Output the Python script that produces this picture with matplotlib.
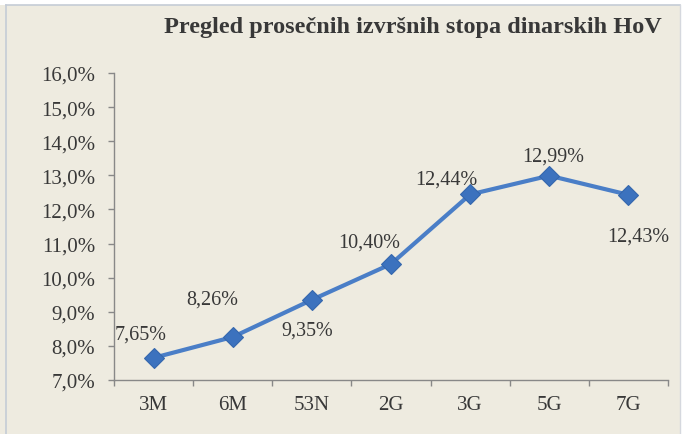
import matplotlib
matplotlib.use("Agg")
import matplotlib.pyplot as plt
from matplotlib.lines import Line2D
import numpy as np

categories = ["3M", "6M", "53N", "2G", "3G", "5G", "7G"]
values = [7.65, 8.26, 9.35, 10.40, 12.44, 12.99, 12.43]
labels = ["7,65%", "8,26%", "9,35%", "10,40%", "12,44%", "12,99%", "12,43%"]
yticks = [7, 8, 9, 10, 11, 12, 13, 14, 15, 16]
title = "Pregled prosečnih izvršnih stopa dinarskih HoV"

# label offsets in points (dx, dy)
offsets = [(-9, 17), (-15, 27), (-3, -22), (-16, 16), (-17, 11), (3, 14), (7, -30)]

bg = "#EEEBE0"
plt.rcParams['font.family'] = ['Liberation Serif', 'DejaVu Serif']

fig = plt.figure(figsize=(6.86, 4.35), dpi=100, facecolor=bg)
# white strips and frame lines
fig.patches.append(plt.Rectangle((0, 1 - 6/435), 1, 6/435, transform=fig.transFigure,
                                 facecolor="white", edgecolor="none", zorder=0))
fig.patches.append(plt.Rectangle((680/686, 0), 6/686, 1, transform=fig.transFigure,
                                 facecolor="white", edgecolor="none", zorder=0))
fig.lines.append(Line2D([6/686, 6/686], [0, 1 - 6/435], transform=fig.transFigure,
                        color="#C5CCD6", lw=1.2))
fig.lines.append(Line2D([6/686, 680/686], [1 - 6/435, 1 - 6/435], transform=fig.transFigure,
                        color="#C5CCD6", lw=1.2))
fig.lines.append(Line2D([680/686, 680/686], [0, 1 - 6/435], transform=fig.transFigure,
                        color="#D5D8DE", lw=1.0))

ax = fig.add_axes([114/686, 1 - 381/435, (668 - 114)/686, (381 - 74)/435])
ax.set_facecolor(bg)

x = np.arange(len(categories))
ax.plot(x, values, color="#4A7EC7", lw=3, marker="D", markersize=10,
        markerfacecolor="#3C72BE", markeredgecolor="#3567AD", markeredgewidth=0.8, zorder=3)

for xi, v, lab, (dx, dy) in zip(x, values, labels, offsets):
    ax.annotate(lab, (xi, v), xytext=(dx, dy), textcoords="offset points",
                ha="center", va="center", fontsize=14.5, color="#383838")

ax.set_xlim(-0.5, len(categories) - 0.5)
ax.set_ylim(7, 16)
ax.set_yticks(yticks)
ax.set_yticklabels([f"{t:.1f}".replace(".", ",") + "%" for t in yticks])
ax.set_xticks(x)
ax.set_xticklabels(categories)
ax.set_xticks(np.arange(-0.5, len(categories), 1), minor=True)
ax.tick_params(axis="x", which="major", length=0, pad=11, labelsize=15, colors="#383838")
ax.tick_params(axis="x", which="minor", length=4.5, width=1, color="#888888", direction="out")
ax.tick_params(axis="y", length=4.5, width=1, color="#888888", labelsize=15,
               labelcolor="#383838", pad=9)
for s in ["top", "right"]:
    ax.spines[s].set_visible(False)
for s in ["left", "bottom"]:
    ax.spines[s].set_color("#888888")
    ax.spines[s].set_linewidth(1)

fig.text(662/686, 1 - 27/435, title, ha="right", va="center", fontsize=17.5,
         fontweight="bold", color="#383838")

fig.savefig("out.png", dpi=100, facecolor=bg)
